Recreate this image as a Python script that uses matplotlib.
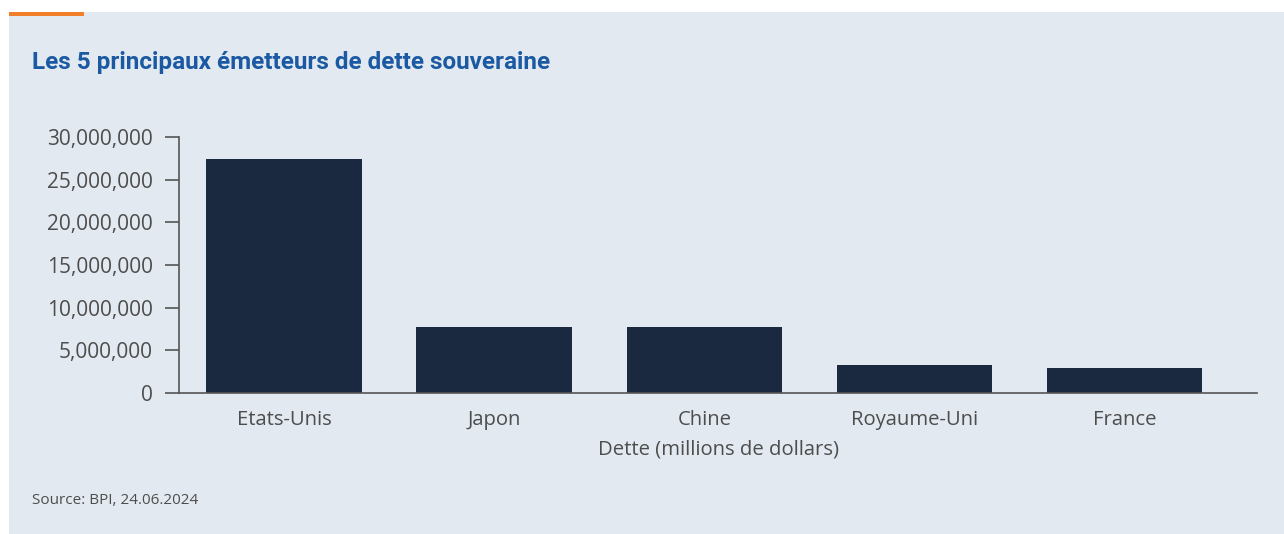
import matplotlib
matplotlib.use("Agg")
import matplotlib.pyplot as plt
from matplotlib.patches import Rectangle
from matplotlib.ticker import FuncFormatter

# Data (millions of dollars)
countries = ["Etats-Unis", "Japon", "Chine", "Royaume-Uni", "France"]
debt = [27400000, 7750000, 7750000, 3300000, 2950000]
yticks = [0, 5000000, 10000000, 15000000, 20000000, 25000000, 30000000]

W, H = 1284, 534
bg = "#e2e9f0"
bar_color = "#1a2940"
text_gray = "#4d4d4d"

plt.rcParams['font.family'] = ['Open Sans', 'DejaVu Sans']

fig = plt.figure(figsize=(W / 100, H / 100), dpi=100)
fig.patch.set_facecolor("white")

# light panel and orange accent
fig.patches.append(Rectangle((9 / W, 0), 1 - 9 / W, (H - 12) / H,
                             transform=fig.transFigure, facecolor=bg,
                             edgecolor="none", zorder=-2))
fig.patches.append(Rectangle((9 / W, (H - 16) / H), 75 / W, 4 / H,
                             transform=fig.transFigure, facecolor="#f07f2b",
                             edgecolor="none", zorder=-1))

ax = fig.add_axes([179 / W, 1 - 393 / H, (1257 - 179) / W, (393 - 137) / H])
ax.set_facecolor(bg)
ax.patch.set_alpha(0)

x = range(len(countries))
ax.bar(x, debt, width=0.74, color=bar_color, zorder=2)

ax.set_ylim(0, 30000000)
ax.set_xlim(-0.5, 4.63)
ax.set_yticks(yticks)
ax.yaxis.set_major_formatter(FuncFormatter(lambda v, p: f"{int(v):,}"))
ax.set_xticks(list(x))
ax.set_xticklabels(countries)

for s in ["top", "right"]:
    ax.spines[s].set_visible(False)
for s in ["left", "bottom"]:
    ax.spines[s].set_color("#555555")
    ax.spines[s].set_linewidth(1.2)

ax.tick_params(axis="y", length=10, width=1.2, color="#555555",
               labelsize=15, labelcolor=text_gray, pad=9)
ax.tick_params(axis="x", length=0, labelsize=14.6, labelcolor=text_gray, pad=12)

ax.set_xlabel("Dette (millions de dollars)", fontsize=14.6, color=text_gray,
              labelpad=7)

fig.text(32 / W, 1 - 63 / H, "Les 5 principaux émetteurs de dette souveraine",
         fontsize=17.5, fontweight="bold", color="#1b5aa3",
         family=["Roboto", "DejaVu Sans"],
         va="center", ha="left")

fig.text(32 / W, 1 - 500 / H, "Source: BPI, 24.06.2024", fontsize=11,
         color=text_gray, va="center", ha="left")

fig.savefig("out.png", dpi=100, facecolor=fig.get_facecolor())
